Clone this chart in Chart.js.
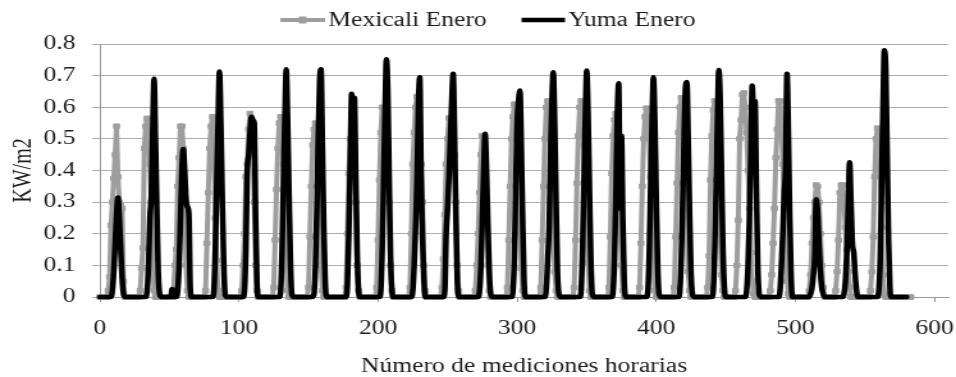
<!DOCTYPE html>
<html>
<head>
<meta charset="utf-8">
<script src="https://cdn.jsdelivr.net/npm/chart.js@4.4.0/dist/chart.umd.min.js"></script>
<style>
html,body{margin:0;padding:0;background:#fff;overflow:hidden;width:956px;height:377px;}
#wrap{position:absolute;left:0;top:0;width:747px;height:377px;transform:scaleX(1.2798);transform-origin:0 0;}
canvas{display:block;}
</style>
</head>
<body>
<div id="wrap"><canvas id="c" width="747" height="377"></canvas></div>
<script>
// ---- chart data ----
const seriesNames = ['Mexicali Enero', 'Yuma Enero'];
const xTitle = 'Número de mediciones horarias';
const yTitle = 'KW/m2';
const xTicks = [0, 100, 200, 300, 400, 500, 600];
const yTicks = [0, 0.1, 0.2, 0.3, 0.4, 0.5, 0.6, 0.7, 0.8];

// Mexicali, hourly values (KW/m2), one line per day of 24 measurements
const mexicaliEnero = [
0,0,0,0,0,0, 0.02,0.063,0.227,0.3,0.375,0.45,0.54,0.38,0.3,0.29,0.28,0.05, 0,0,0,0,0,0,
0,0,0,0,0, 0.02,0.09,0.155,0.47,0.54,0.565,0.5,0.42,0.3,0.12,0.02, 0,0,0,0,0,0,0,0,
0,0,0,0,0, 0.02,0.1,0.15,0.35,0.44,0.54,0.54,0.47,0.3,0.1,0.02, 0,0,0,0,0,0,0,0,
0,0,0,0, 0.02,0.17,0.33,0.47,0.54,0.57,0.45,0.25,0.116,0.02, 0,0,0,0,0,0,0,0,0,0,
0,0,0,0,0,0, 0.02,0.1,0.2,0.38,0.42,0.53,0.58,0.55,0.45,0.3,0.1,0.02, 0,0,0,0,0,0,
0,0,0,0,0, 0.03,0.18,0.34,0.47,0.55,0.57,0.5,0.42,0.29,0.11,0.02, 0,0,0,0,0,0,0,0,
0,0,0,0,0,0, 0.03,0.19,0.35,0.48,0.53,0.55,0.5,0.42,0.3,0.1,0.02, 0,0,0,0,0,0,0,
0,0,0,0,0,0,0,0,0, 0.03,0.2,0.39,0.5,0.52,0.51,0.5,0.3,0.1,0.02, 0,0,0,0,0,
0,0,0,0,0,0,0, 0.03,0.18,0.37,0.52,0.6,0.57,0.52,0.46,0.38,0.3,0.1,0.02, 0,0,0,0,0,
0,0,0,0,0,0,0, 0.03,0.2,0.42,0.52,0.6,0.634,0.58,0.5,0.42,0.3,0.1,0.02, 0,0,0,0,0,
0,0,0,0,0,0, 0.03,0.12,0.26,0.42,0.5,0.566,0.55,0.52,0.48,0.45,0.3,0.1,0.02, 0,0,0,0,0,
0,0,0,0,0,0, 0.02,0.1,0.2,0.33,0.45,0.51,0.5,0.42,0.3,0.1,0.02, 0,0,0,0,0,0,0,
0,0,0,0,0, 0.03,0.18,0.35,0.5,0.57,0.61,0.58,0.5,0.35,0.2,0.09,0.02, 0,0,0,0,0,0,0,
0,0,0,0,0, 0.03,0.18,0.35,0.5,0.6,0.62,0.6,0.5,0.36,0.2,0.08,0.02, 0,0,0,0,0,0,0,
0,0,0,0,0, 0.03,0.18,0.36,0.51,0.6,0.62,0.58,0.48,0.33,0.2,0.11,0.02, 0,0,0,0,0,0,0,
0,0,0,0,0,0, 0.03,0.19,0.39,0.51,0.56,0.58,0.52,0.4,0.25,0.1,0.02, 0,0,0,0,0,0,0,
0,0,0,0, 0.03,0.17,0.35,0.5,0.57,0.597,0.57,0.5,0.38,0.22,0.08,0.02, 0,0,0,0,0,0,0,0,
0,0,0,0,0, 0.03,0.19,0.36,0.52,0.6,0.63,0.6,0.52,0.38,0.22,0.08,0.02, 0,0,0,0,0,0,0,
0,0,0,0,0, 0.03,0.13,0.37,0.51,0.59,0.62,0.6,0.5,0.36,0.2,0.07,0.02, 0,0,0,0,0,0,0,
0, 0.02,0.1,0.243,0.5,0.56,0.64,0.645,0.6,0.52,0.4,0.28,0.14,0.05,0.01, 0,0,0,0,0,0,0,0,0,
0,0, 0.02,0.07,0.17,0.28,0.44,0.53,0.62,0.62,0.55,0.42,0.28,0.14,0.05,0.01, 0,0,0,0,0,0,0,0,
0,0,0,0,0,0, 0.02,0.07,0.17,0.25,0.3,0.354,0.35,0.3,0.2,0.1,0.03, 0,0,0,0,0,0,0,
0, 0.02,0.08,0.18,0.33,0.354,0.354,0.3,0.22,0.15,0.08,0.03, 0,0,0,0,0,0,0,0,0,0,0,0,
0,0, 0.02,0.08,0.19,0.38,0.5,0.534,0.5,0.4,0.22,0.07,0.01, 0,0,0,0,0,0,0,0,0,0,0,
0,0,0,0,0,0,0,0
];

// Yuma, hourly values (KW/m2), one line per day of 24 measurements
const yumaEnero = [
0,0,0,0,0,0,0,0,0, 0.02,0.08,0.17,0.26,0.315,0.25,0.15,0.06,0.01, 0,0,0,0,0,0,
0,0,0,0,0,0,0,0,0,0, 0.02,0.1,0.25,0.32,0.52,0.69,0.5,0.28,0.08,0.01, 0,0,0,0,
0,0,0,0,0.025,0,0,0, 0.02,0.1,0.25,0.4,0.468,0.4,0.31,0.285,0.265,0.03, 0,0,0,0,0,0,
0,0,0,0,0,0,0,0,0,0, 0.02,0.15,0.35,0.55,0.713,0.55,0.32,0.12,0.01, 0,0,0,0,0,
0,0,0,0,0,0,0,0, 0.02,0.15,0.4,0.45,0.52,0.57,0.56,0.55,0.25,0.04, 0,0,0,0,0,0,
0,0,0,0,0,0,0,0,0,0, 0.02,0.15,0.36,0.56,0.72,0.56,0.33,0.12,0.01, 0,0,0,0,0,
0,0,0,0,0,0,0,0,0,0, 0.01,0.1,0.28,0.5,0.68,0.72,0.48,0.22,0.05, 0,0,0,0,0,
0,0,0,0,0,0,0,0,0,0, 0.04,0.2,0.42,0.643,0.6,0.63,0.38,0.14,0.02, 0,0,0,0,0,
0,0,0,0,0,0,0,0,0,0, 0.02,0.15,0.36,0.58,0.752,0.66,0.38,0.13,0.02, 0,0,0,0,0,
0,0,0,0,0,0,0,0,0, 0.02,0.1,0.22,0.36,0.6,0.695,0.38,0.18,0.05, 0,0,0,0,0,0,
0,0,0,0,0,0,0,0, 0.02,0.2,0.28,0.38,0.5,0.62,0.706,0.52,0.25,0.05, 0,0,0,0,0,0,
0,0,0,0,0,0,0,0,0, 0.02,0.1,0.25,0.4,0.516,0.4,0.23,0.08,0.01, 0,0,0,0,0,0,
0,0,0,0,0,0,0,0,0, 0.02,0.12,0.35,0.55,0.62,0.653,0.48,0.24,0.05, 0,0,0,0,0,0,
0,0,0,0,0,0,0,0,0, 0.03,0.12,0.22,0.45,0.62,0.711,0.55,0.3,0.08,0.01, 0,0,0,0,0,
0,0,0,0,0,0,0,0,0,0, 0.02,0.15,0.36,0.56,0.716,0.58,0.34,0.12,0.01, 0,0,0,0,0,
0,0,0,0,0,0,0,0,0, 0.02,0.12,0.32,0.57,0.676,0.28,0.51,0.24,0.05, 0,0,0,0,0,0,
0,0,0,0,0,0,0,0,0,0, 0.02,0.14,0.35,0.55,0.695,0.56,0.32,0.11,0.01, 0,0,0,0,0,
0,0,0,0,0,0,0,0,0, 0.02,0.12,0.3,0.5,0.66,0.68,0.5,0.26,0.08,0.01, 0,0,0,0,0,
0,0,0,0,0,0,0,0,0, 0.02,0.14,0.34,0.55,0.718,0.62,0.38,0.15,0.03, 0,0,0,0,0,0,
0,0,0,0,0,0,0,0,0, 0.02,0.1,0.25,0.45,0.669,0.56,0.62,0.35,0.1,0.01, 0,0,0,0,0,
0,0,0,0,0,0,0,0,0, 0.02,0.1,0.2,0.33,0.41,0.706,0.52,0.25,0.06, 0,0,0,0,0,0,
0,0,0,0,0,0,0, 0.01,0.03,0.07,0.13,0.309,0.27,0.17,0.08,0.03,0.01, 0,0,0,0,0,0,0,
0,0,0,0,0,0,0, 0.01,0.05,0.14,0.28,0.426,0.3,0.17,0.14,0.07,0.02, 0,0,0,0,0,0,0,
0,0,0,0,0,0,0,0, 0.02,0.12,0.35,0.6,0.78,0.72,0.45,0.18,0.03, 0,0,0,0,0,0,0,
0,0,0,0,0
];

// ---- styling ----
const GRAY = '#9e9e9e';
const GRID = '#adadad';
const AXIS = '#9a9a9a';
const TEXT = '#1c1c1c';
const FONT = '"Liberation Serif", "Times New Roman", serif';

Chart.defaults.font.family = FONT;
Chart.defaults.font.size = 20;
Chart.defaults.color = TEXT;

const toPoints = arr => arr.map((v, i) => ({ x: i, y: v }));

const legendPlugin = {
  id: 'topLegend',
  afterDraw(chart) {
    const c = chart.ctx;
    c.save();
    const y = 20;
    // Mexicali: gray line with square marker
    c.strokeStyle = GRAY; c.lineWidth = 4;
    c.beginPath(); c.moveTo(219, y); c.lineTo(254, y); c.stroke();
    c.fillStyle = GRAY; c.fillRect(233.5, y - 3.5, 6, 7);
    c.fillStyle = TEXT; c.font = '20px ' + FONT; c.textBaseline = 'middle'; c.textAlign = 'left';
    c.fillText(seriesNames[0], 256.5, y + 1);
    // Yuma: black line
    c.strokeStyle = '#000'; c.lineWidth = 4.5;
    c.beginPath(); c.moveTo(407.5, y); c.lineTo(441.5, y); c.stroke();
    c.fillStyle = TEXT;
    c.fillText(seriesNames[1], 444, y + 1);
    c.restore();
  }
};

new Chart(document.getElementById('c').getContext('2d'), {
  type: 'line',
  data: {
    datasets: [
      {
        label: seriesNames[0],
        data: toPoints(mexicaliEnero),
        borderColor: GRAY,
        backgroundColor: GRAY,
        borderWidth: 4,
        pointStyle: 'rect',
        pointRadius: 3.2,
        pointBorderWidth: 1,
        pointBackgroundColor: GRAY,
        pointBorderColor: GRAY,
        tension: 0,
        order: 2,
        clip: 8
      },
      {
        label: seriesNames[1],
        data: toPoints(yumaEnero),
        borderColor: '#000000',
        backgroundColor: '#000000',
        borderWidth: 4.5,
        pointRadius: 0,
        cubicInterpolationMode: 'monotone',
        order: 1,
        clip: 8
      }
    ]
  },
  options: {
    responsive: false,
    animation: false,
    devicePixelRatio: 1,
    layout: { padding: { top: 44, right: 6, bottom: 0, left: 0 } },
    plugins: { legend: { display: false }, tooltip: { enabled: false } },
    elements: { line: { borderJoinStyle: 'round', borderCapStyle: 'round' } },
    scales: {
      x: {
        type: 'linear',
        min: 0,
        max: 610,
        afterBuildTicks(s) { s.ticks = xTicks.map(v => ({ value: v })); },
        afterFit(s) { s.height = 80; s.paddingLeft = 0; s.paddingRight = 0; },
        ticks: { padding: 15, maxRotation: 0, autoSkip: false, color: TEXT, font: { size: 20 } },
        grid: { drawOnChartArea: false, drawTicks: true, tickLength: 5, color: AXIS },
        border: { display: true, color: AXIS, width: 1 },
        title: { display: true, text: xTitle, color: TEXT, font: { size: 20, lineHeight: 1 }, padding: { top: 0, bottom: 0 } }
      },
      y: {
        min: 0,
        max: 0.8,
        afterBuildTicks(s) { s.ticks = yTicks.map(v => ({ value: v })); },
        afterFit(s) { s.width = 78; s.paddingTop = 0; s.paddingBottom = 0; },
        ticks: {
          padding: 13, color: TEXT, font: { size: 20 },
          callback: v => (v === 0 ? '0' : Number(v).toFixed(1))
        },
        grid: { color: GRID, tickLength: 6, lineWidth: 1 },
        border: { display: true, color: AXIS, width: 1 },
        title: { display: true, text: yTitle, color: TEXT, font: { size: 20 }, padding: { top: 7, bottom: 0 } }
      }
    }
  },
  plugins: [legendPlugin]
});
</script>
</body>
</html>
